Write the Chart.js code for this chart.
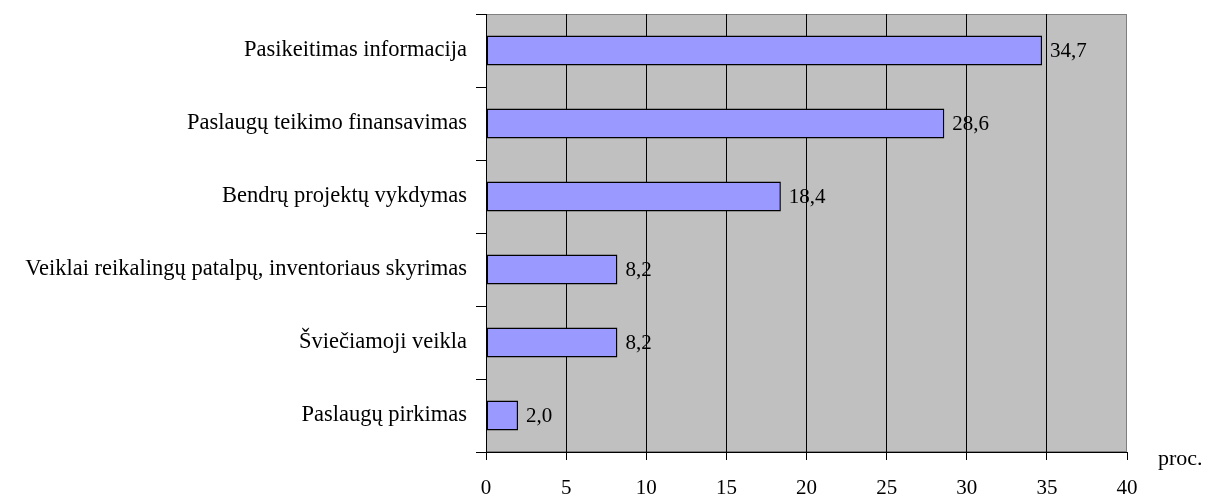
<!DOCTYPE html>
<html>
<head>
<meta charset="utf-8">
<script src="https://cdn.jsdelivr.net/npm/chart.js@4"></script>
<style>
  html, body { margin: 0; padding: 0; background: #fff; }
  #wrap { width: 1219px; height: 499px; }
</style>
</head>
<body>
<div id="wrap"><canvas id="barChart" width="1219" height="499"></canvas></div>
<script>
// data
const categories = [
    'Pasikeitimas informacija',
    'Paslaugų teikimo finansavimas',
    'Bendrų projektų vykdymas',
    'Veiklai reikalingų patalpų, inventoriaus skyrimas',
    'Šviečiamoji veikla',
    'Paslaugų pirkimas'
];
const values = [34.7, 28.6, 18.4, 8.2, 8.2, 2.0];
const xTicks = [0, 5, 10, 15, 20, 25, 30, 35, 40];
const unitLabel = 'proc.';

const serif = "'Liberation Serif', 'Times New Roman', serif";

// grey plot background + frame
const plotBg = {
    id: 'plotBg',
    beforeDraw(chart) {
        const { ctx, chartArea: a } = chart;
        ctx.save();
        ctx.fillStyle = '#C0C0C0';
        ctx.fillRect(a.left, a.top, a.right - a.left, a.bottom - a.top);
        ctx.strokeStyle = '#808080';
        ctx.lineWidth = 1;
        ctx.strokeRect(a.left + 0.5, a.top + 0.5, a.right - a.left - 1, a.bottom - a.top - 1);
        ctx.restore();
    }
};

// value labels next to bars and the unit text
const valueLabels = {
    id: 'valueLabels',
    afterDatasetsDraw(chart) {
        const { ctx, chartArea: a } = chart;
        const meta = chart.getDatasetMeta(0);
        ctx.save();
        ctx.font = '21px ' + serif;
        ctx.fillStyle = '#000';
        ctx.textBaseline = 'middle';
        ctx.textAlign = 'left';
        meta.data.forEach((bar, i) => {
            const txt = values[i].toFixed(1).replace('.', ',');
            ctx.fillText(txt, bar.x + 8, bar.y + 1);
        });
        ctx.font = '22px ' + serif;
        ctx.fillText(unitLabel, a.right + 31, a.bottom + 7);
        ctx.restore();
    }
};

const ctx = document.getElementById('barChart').getContext('2d');
const barChart = new Chart(ctx, {
    type: 'bar',
    data: {
        labels: categories,
        datasets: [{
            data: values,
            backgroundColor: '#9999FF',
            borderColor: '#000',
            borderWidth: 1.5,
            borderSkipped: false,
            barPercentage: 0.41,
            categoryPercentage: 1
        }]
    },
    options: {
        indexAxis: 'y',
        responsive: false,
        animation: false,
        layout: { padding: { left: 0, top: 14, right: 92, bottom: 0 } },
        plugins: {
            legend: { display: false },
            tooltip: { enabled: false }
        },
        scales: {
            x: {
                min: 0,
                max: 40,
                afterBuildTicks: scale => { scale.ticks = xTicks.map(v => ({ value: v })); },
                afterFit: scale => {
                    scale.height = 47;
                    scale.paddingLeft = 0;
                    scale.paddingRight = 0;
                },
                border: { display: true, color: '#000', width: 1 },
                grid: {
                    color: c => (c.tick && (c.tick.value === 0 || c.tick.value === 40)) ? 'rgba(0,0,0,0)' : '#000',
                    tickColor: '#000',
                    tickLength: 8,
                    lineWidth: 1
                },
                ticks: {
                    color: '#000',
                    padding: 16,
                    font: { family: serif, size: 21 }
                }
            },
            y: {
                afterFit: scale => {
                    scale.width = 486;
                    scale.paddingTop = 0;
                    scale.paddingBottom = 0;
                },
                border: { display: true, color: '#000', width: 1 },
                grid: {
                    offset: true,
                    drawOnChartArea: false,
                    tickColor: '#000',
                    tickLength: 10
                },
                ticks: {
                    color: '#000',
                    padding: 9,
                    font: { family: serif, size: 22.5 }
                }
            }
        }
    },
    plugins: [plotBg, valueLabels]
});
</script>
</body>
</html>
